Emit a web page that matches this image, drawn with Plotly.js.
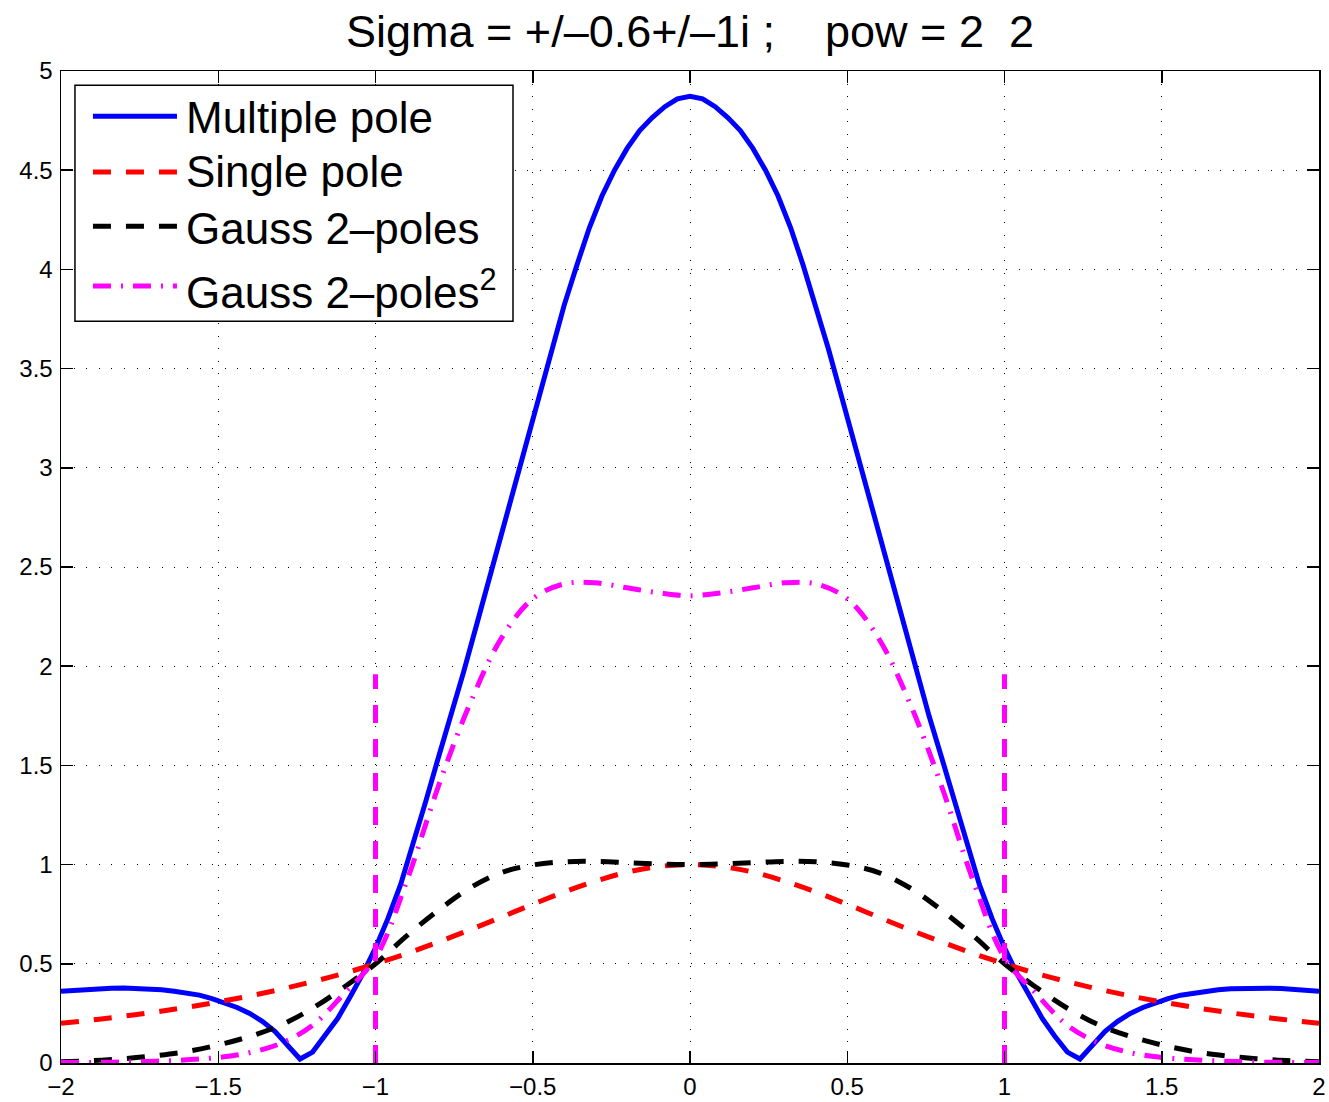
<!DOCTYPE html>
<html>
<head>
<meta charset="utf-8">
<script src="https://cdn.plot.ly/plotly-3.0.1.min.js"></script>
<style>
  html, body { margin: 0; padding: 0; background: #fff; }
  #chart { width: 1329px; height: 1102px; }
</style>
</head>
<body>
<div id="chart"></div>
<script>
// Frequency samples for the multiple-pole response (fine grid)
const xFine = [
  -2.00,-1.96,-1.92,-1.88,-1.84,-1.80,-1.76,-1.72,-1.68,-1.64,
  -1.60,-1.56,-1.52,-1.48,-1.44,-1.40,-1.36,-1.32,-1.28,-1.24,
  -1.20,-1.16,-1.12,-1.08,-1.04,-1.00,-0.96,-0.92,-0.88,-0.84,
  -0.80,-0.76,-0.72,-0.68,-0.64,-0.60,-0.56,-0.52,-0.48,-0.44,
  -0.40,-0.36,-0.32,-0.28,-0.24,-0.20,-0.16,-0.12,-0.08,-0.04,
   0.00,
   0.04, 0.08, 0.12, 0.16, 0.20, 0.24, 0.28, 0.32, 0.36, 0.40,
   0.44, 0.48, 0.52, 0.56, 0.60, 0.64, 0.68, 0.72, 0.76, 0.80,
   0.84, 0.88, 0.92, 0.96, 1.00, 1.04, 1.08, 1.12, 1.16, 1.20,
   1.24, 1.28, 1.32, 1.36, 1.40, 1.44, 1.48, 1.52, 1.56, 1.60,
   1.64, 1.68, 1.72, 1.76, 1.80, 1.84, 1.88, 1.92, 1.96, 2.00
];

const multiplePole = [
  0.362,0.367,0.371,0.375,0.377,0.378,0.377,0.374,0.369,0.362,
  0.353,0.342,0.325,0.305,0.280,0.250,0.210,0.160,0.090,0.020,
  0.055,0.135,0.225,0.335,0.450,0.580,0.730,0.900,1.100,1.320,
  1.540,1.750,1.970,2.200,2.430,2.660,2.900,3.140,3.370,3.600,
  3.820,4.020,4.210,4.370,4.500,4.610,4.700,4.765,4.820,4.860,
  4.873,
  4.860,4.820,4.765,4.700,4.610,4.500,4.370,4.210,4.020,3.820,
  3.600,3.370,3.140,2.900,2.660,2.430,2.200,1.970,1.750,1.540,
  1.320,1.100,0.900,0.730,0.580,0.450,0.335,0.225,0.135,0.055,
  0.020,0.090,0.160,0.210,0.250,0.280,0.305,0.325,0.342,0.353,
  0.362,0.369,0.374,0.377,0.378,0.377,0.375,0.371,0.367,0.362
];

// Frequency samples for the smoother responses (coarse grid)
const xCoarse = [
  -2.0,-1.9,-1.8,-1.7,-1.6,-1.5,-1.4,-1.3,-1.2,-1.1,
  -1.0,-0.9,-0.8,-0.7,-0.6,-0.5,-0.4,-0.3,-0.2,-0.1,
   0.0,
   0.1, 0.2, 0.3, 0.4, 0.5, 0.6, 0.7, 0.8, 0.9, 1.0,
   1.1, 1.2, 1.3, 1.4, 1.5, 1.6, 1.7, 1.8, 1.9, 2.0
];

const singlePole = [
  0.200,0.217,0.236,0.257,0.281,0.308,0.338,0.372,0.410,0.452,
  0.500,0.552,0.610,0.671,0.735,0.800,0.862,0.917,0.962,0.990,
  1.000,
  0.990,0.962,0.917,0.862,0.800,0.735,0.671,0.610,0.552,0.500,
  0.452,0.410,0.372,0.338,0.308,0.281,0.257,0.236,0.217,0.200
];

const gauss2Poles = [
  0.006,0.012,0.022,0.037,0.058,0.091,0.134,0.192,0.276,0.382,
  0.500,0.642,0.770,0.882,0.960,0.998,1.014,1.016,1.010,1.003,
  1.000,
  1.003,1.010,1.016,1.014,0.998,0.960,0.882,0.770,0.642,0.500,
  0.382,0.276,0.192,0.134,0.091,0.058,0.037,0.022,0.012,0.006
];

const gauss2PolesSq = [
  0.002,0.003,0.005,0.009,0.016,0.028,0.052,0.100,0.190,0.350,
  0.530,0.920,1.395,1.810,2.140,2.340,2.415,2.420,2.395,2.370,
  2.355,
  2.370,2.395,2.420,2.415,2.340,2.140,1.810,1.395,0.920,0.530,
  0.350,0.190,0.100,0.052,0.028,0.016,0.009,0.005,0.003,0.002
];

// Vertical markers at the band edges
const edgeX = [-1, -1, null, 1, 1];
const edgeY = [0, 1.96, null, 0, 1.96];

// Axis ticks
const xTickVals = [-2, -1.5, -1, -0.5, 0, 0.5, 1, 1.5, 2];
const xTickText = ['\u22122', '\u22121.5', '\u22121', '\u22120.5', '0', '0.5', '1', '1.5', '2'];
const yTickVals = [0, 0.5, 1, 1.5, 2, 2.5, 3, 3.5, 4, 4.5, 5];
const yTickText = ['0', '0.5', '1', '1.5', '2', '2.5', '3', '3.5', '4', '4.5', '5'];

// Series names and styles
const seriesNames = ['Multiple pole', 'Single pole', 'Gauss 2\u2013poles', 'Gauss 2\u2013poles<sup>2</sup>'];
const seriesColors = ['#0000ff', '#ff0000', '#000000', '#ff00ff'];
const seriesDashes = ['solid', '18px,15px', '18px,15px', '18px,10px,2px,10px'];

const titleText = 'Sigma = +/\u20130.6+/\u20131i ;\u00a0\u00a0\u00a0\u00a0pow = 2\u00a0\u00a02';

const FONT = 'Liberation Sans, Arial, Helvetica, sans-serif';
const LW = 5;

const traces = [
  { x: xFine, y: multiplePole, name: seriesNames[0], mode: 'lines',
    line: { color: seriesColors[0], width: LW, dash: seriesDashes[0] } },
  { x: xCoarse, y: singlePole, name: seriesNames[1], mode: 'lines',
    line: { color: seriesColors[1], width: LW, dash: seriesDashes[1], shape: 'spline' } },
  { x: xCoarse, y: gauss2Poles, name: seriesNames[2], mode: 'lines',
    line: { color: seriesColors[2], width: LW, dash: seriesDashes[2], shape: 'spline' } },
  { x: xCoarse, y: gauss2PolesSq, name: seriesNames[3], mode: 'lines',
    line: { color: seriesColors[3], width: LW, dash: seriesDashes[3], shape: 'spline' } },
  { x: edgeX, y: edgeY, mode: 'lines', showlegend: false, connectgaps: false,
    line: { color: seriesColors[3], width: LW, dash: '18px,16px' } }
];

// Boxed legend in the upper-left corner of the plotting area
const legendBox = { x0: 0.0111, x1: 0.3593, y0: 0.7478, y1: 0.9856 };
const legendRowY = [0.9543, 0.8982, 0.8435, 0.7833];
const legendTextY = [0.9532, 0.8990, 0.8415, 0.7800];
const sampleX0 = 0.0254, sampleX1 = 0.0922, labelX = 0.0980;

const shapes = [{
  type: 'rect', xref: 'paper', yref: 'paper',
  x0: legendBox.x0, x1: legendBox.x1, y0: legendBox.y0, y1: legendBox.y1,
  fillcolor: '#ffffff', line: { color: '#000000', width: 1.5 }, layer: 'above'
}];
const annotations = [];
seriesNames.forEach((name, i) => {
  shapes.push({
    type: 'line', xref: 'paper', yref: 'paper',
    x0: sampleX0, x1: sampleX1, y0: legendRowY[i], y1: legendRowY[i],
    line: { color: seriesColors[i], width: LW, dash: seriesDashes[i] }, layer: 'above'
  });
  annotations.push({
    xref: 'paper', yref: 'paper', x: labelX, y: legendTextY[i],
    xanchor: 'left', yanchor: 'middle', showarrow: false,
    text: name, font: { family: FONT, size: 44, color: '#000' }
  });
});

const axisCommon = {
  ticks: 'inside', ticklen: 12, tickwidth: 1.5, tickcolor: '#000',
  showline: true, linecolor: '#000', linewidth: 1.5, mirror: 'ticks',
  showgrid: true, gridcolor: '#000', gridwidth: 1, griddash: '1px,11.6px',
  zeroline: false, tickfont: { family: FONT, size: 24, color: '#000' },
  tickmode: 'array', fixedrange: true
};

const layout = {
  width: 1329, height: 1102,
  margin: { l: 61, r: 10, t: 71, b: 39, pad: 0 },
  paper_bgcolor: '#ffffff', plot_bgcolor: '#ffffff',
  font: { family: FONT, color: '#000' },
  showlegend: false,
  title: {
    text: titleText, font: { family: FONT, size: 45, color: '#000' },
    x: 0.5, xref: 'paper', xanchor: 'center',
    y: 0.972, yref: 'container', yanchor: 'middle'
  },
  xaxis: Object.assign({}, axisCommon, { range: [-2, 2], tickvals: xTickVals, ticktext: xTickText, ticklabelstandoff: 2 }),
  yaxis: Object.assign({}, axisCommon, { range: [0, 5], tickvals: yTickVals, ticktext: yTickText, ticklabelstandoff: 2 }),
  shapes: shapes,
  annotations: annotations
};

Plotly.newPlot('chart', traces, layout, { displayModeBar: false, staticPlot: true });
</script>
</body>
</html>
